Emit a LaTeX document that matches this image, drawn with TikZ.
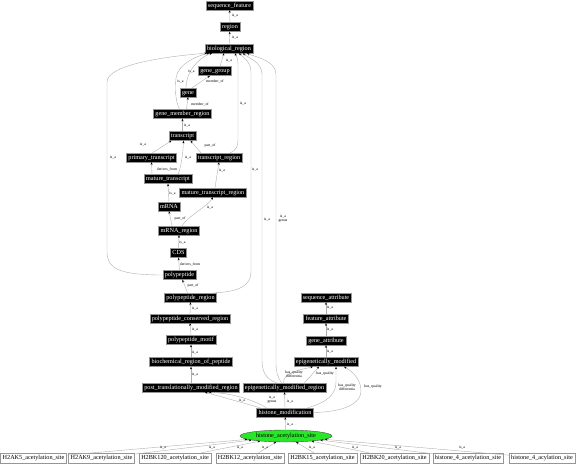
\documentclass[tikz,border=0pt]{standalone}
\usepackage{fontspec}
\setmainfont{Liberation Serif}
\usetikzlibrary{arrows.meta,positioning,shapes.geometric,calc}
\definecolor{edgegray}{RGB}{175,175,175}
\definecolor{boxgray}{RGB}{150,150,150}
\definecolor{acgreen}{RGB}{40,230,40}

\begin{document}
\begin{tikzpicture}[x=1pt, y=-1pt,
  term/.style={draw=boxgray, fill=black, text=white, line width=0.4pt,
    font=\fontsize{6.2}{7}\selectfont, inner xsep=2pt, inner ysep=0pt,
    minimum height=9pt, text height=4.4pt, text depth=1.3pt},
  site/.style={term, fill=white, text=black, minimum height=10pt},
  acsite/.style={ellipse, draw=black!70, fill=acgreen, line width=0.4pt,
    font=\fontsize{6.2}{7}\selectfont, inner sep=0pt,
    minimum width=92pt, minimum height=12pt},
  rel/.style={edgegray, line width=0.4pt, -{Stealth[length=2.6pt, width=2pt, color=black]}},
  lbl/.style={font=\fontsize{3.8}{4.2}\selectfont, inner sep=0pt, align=center}
]
\useasboundingbox (0,0) rectangle (576,464);

% --- backbone ---
\node[term] (sf) at (229.5,5.5) {sequence\_feature};
\node[term] (reg) at (230,27) {region};
\node[term] (bio) at (229,48.5) {biological\_region};

% --- gene and transcript terms ---
\node[term] (ggrp) at (215,71) {gene\_group};
\node[term] (gene) at (188,92.5) {gene};
\node[term] (gmr) at (182.5,114) {gene\_member\_region};
\node[term] (tr) at (182.5,136) {transcript};
\node[term] (ptr) at (151.5,157.5) {primary\_transcript};
\node[term] (trr) at (219,157.5) {transcript\_region};
\node[term] (mtr) at (168,179) {mature\_transcript};
\node[term] (mtrr) at (213,192.5) {mature\_transcript\_region};
\node[term] (mrna) at (169,206.5) {mRNA};
\node[term] (mrnar) at (179,230.5) {mRNA\_region};
\node[term] (cds) at (178.5,253) {CDS};

% --- polypeptide terms ---
\node[term] (pp) at (179.5,275) {polypeptide};
\node[term] (ppr) at (190.5,297.5) {polypeptide\_region};
\node[term] (ppcr) at (190,318.5) {polypeptide\_conserved\_region};
\node[term] (ppm) at (191,340) {polypeptide\_motif};
\node[term] (brp) at (191,362) {biochemical\_region\_of\_peptide};
\node[term] (ptmr) at (191,387.5) {post\_translationally\_modified\_region};

% --- attributes and modification ---
\node[term] (sa) at (326,297.5) {sequence\_attribute};
\node[term] (fa) at (326,318.5) {feature\_attribute};
\node[term] (ga) at (326,340.5) {gene\_attribute};
\node[term] (em) at (326,362) {epigenetically\_modified};
\node[term] (emr) at (284.5,387.5) {epigenetically\_modified\_region};
\node[term] (hm) at (285,412.5) {histone\_modification};
\node[acsite] (has) at (286,436) {histone\_acetylation\_site};

% --- acetylation sites ---
\node[site] (s1) at (33.5,458) {H2AK5\_acetylation\_site};
\node[site] (s2) at (101.5,458) {H2AK9\_acetylation\_site};
\node[site] (s3) at (175,458) {H2BK120\_acetylation\_site};
\node[site] (s4) at (250,458) {H2BK12\_acetylation\_site};
\node[site] (s5) at (322.5,458) {H2BK15\_acetylation\_site};
\node[site] (s6) at (394.5,458) {H2BK20\_acetylation\_site};
\node[site] (s7) at (468,458) {histone\_4\_acetylation\_site};
\node[site] (s8) at (542,458) {histone\_4\_acylation\_site};

% --- edges, child to parent ---
\draw[rel] (reg) -- (sf);
\draw[rel] (bio) -- (reg);
\draw[rel] ([xshift=5pt]ggrp.north) -- ([xshift=-5pt]bio.south);
\draw[rel] ([xshift=4pt]gene.north) -- ([xshift=-5pt]ggrp.south);
\draw[rel] ([xshift=-2pt]gene.north) .. controls (186,72) and (198,58) .. ([xshift=-17pt]bio.south);
\draw[rel] ([xshift=4pt]gmr.north) -- (gene.south);
\draw[rel] ([xshift=-3pt]gmr.north) .. controls (175,100) and (175,88) .. (176,78)
  .. controls (178,64) and (196,56) .. ([xshift=-20pt]bio.south);
\draw[rel] (tr.north) -- (gmr.south);
\draw[rel] ([xshift=1pt]ptr.north) -- ([xshift=-11pt]tr.south);
\draw[rel] ([xshift=-16pt]mtr.north) -- (ptr.south);
\draw[rel] ([xshift=10pt]mtr.north) .. controls (182,165) and (183,150) .. ([xshift=1pt]tr.south);
\draw[rel] ([xshift=-18pt]trr.north) -- ([xshift=8pt]tr.south);
\draw[rel] ([xshift=11pt]trr.north) .. controls (237,150) and (238,146) .. (238,138) -- (238,64)
  .. controls (238,58) and (236,56) .. ([xshift=6pt]bio.south);
\draw[rel] ([xshift=2pt]mtrr.north) -- (trr.south);
\draw[rel] (mrna.north) -- (mtr.south);
\draw[rel] ([xshift=-7pt]mrnar.north) -- (mrna.south);
\draw[rel] ([xshift=3pt]mrnar.north) .. controls (188,216) and (208,206) .. (mtrr.south);
\draw[rel] (cds.north) -- (mrnar.south);
\draw[rel] (pp.north) -- (cds.south);
\draw[rel] ([xshift=-3pt]ppr.north) -- ([xshift=3pt]pp.south);
\draw[rel] (pp.west) .. controls (118,275) and (107,268) .. (107,252) -- (107,82)
  .. controls (107,64) and (170,56) .. ([xshift=-22pt]bio.south);
\draw[rel] ([xshift=-3pt]ppr.north east) .. controls (238,292) and (251,286) .. (251,272) -- (251,72)
  .. controls (251,62) and (243,57) .. ([xshift=10pt]bio.south);
\draw[rel] (ppcr.north) -- (ppr.south);
\draw[rel] (ppm.north) -- (ppcr.south);
\draw[rel] (brp.north) -- (ppm.south);
\draw[rel] (ptmr.north) -- (brp.south);
\draw[rel] ([xshift=-8pt]emr.north) .. controls (266,379) and (262,372) .. (262,360) -- (262,74)
  .. controls (262,62) and (247,57) .. ([xshift=14pt]bio.south);
\draw[rel] ([xshift=-3pt]emr.north) .. controls (278,378) and (276,372) .. (276,364) -- (276,74)
  .. controls (276,60) and (252,56) .. ([xshift=18pt]bio.south);
\draw[rel] (fa.north) -- (sa.south);
\draw[rel] (ga.north) -- (fa.south);
\draw[rel] (em.north) -- (ga.south);
\draw[rel] ([xshift=-1pt]emr.north) .. controls (283,372) and (300,370) .. ([xshift=-13pt]em.south);
\draw[rel] ([xshift=20pt]emr.north) -- ([xshift=-7pt]em.south);
\draw[rel] ([xshift=-6pt]hm.north east) .. controls (328,402) and (336,394) .. (336,382) -- ([xshift=10pt]em.south);
\draw[rel] (hm.east) .. controls (345,412) and (361,403) .. (361,391)
  .. controls (361,379) and (352,371) .. ([xshift=18pt]em.south);
\draw[rel] (hm.north) -- (emr.south);
\draw[rel] ([xshift=4pt]hm.north west) -- ([xshift=14pt]ptmr.south);
\draw[rel] ([xshift=10pt]hm.north west) .. controls (250,398) and (228,393) .. ([xshift=18pt]ptmr.south);
\draw[rel] (has) -- (hm);
\draw[rel] (s1) -- (has);
\draw[rel] (s2) -- (has);
\draw[rel] (s3) -- (has);
\draw[rel] (s4) -- (has);
\draw[rel] (s5) -- (has);
\draw[rel] (s6) -- (has);
\draw[rel] (s7) -- (has);
\draw[rel] (s8) -- (has);

% --- edge labels ---
\node[lbl] (l1) at (235,15.5) {is\_a};
\node[lbl] (l2) at (235,37) {is\_a};
\node[lbl] (l3) at (229,60) {is\_a};
\node[lbl] (l4) at (215,81.5) {member\_of};
\node[lbl] (l5) at (191.5,71) {is\_a};
\node[lbl] (l6) at (180.5,81) {is\_a};
\node[lbl] (l7) at (200,104) {member\_of};
\node[lbl] (l8) at (187,125) {is\_a};
\node[lbl] (l9) at (243,103) {is\_a};
\node[lbl] (l10) at (143,144) {is\_a};
\node[lbl] (l11) at (210,146) {part\_of};
\node[lbl] (l12) at (113,157) {is\_a};
\node[lbl] (l13) at (188,157) {is\_a};
\node[lbl] (l14) at (167,169) {derives\_from};
\node[lbl] (l15) at (222,170) {is\_a};
\node[lbl] (l16) at (255,169) {is\_a};
\node[lbl] (l17) at (172.5,193) {is\_a};
\node[lbl] (l18) at (210,207) {is\_a};
\node[lbl] (l19) at (180,219) {part\_of};
\node[lbl] (l20) at (267,219) {is\_a};
\node[lbl] (l21) at (283,219) {is\_a\\genus};
\node[lbl] (l22) at (182.5,242) {is\_a};
\node[lbl] (l23) at (190,264) {derives\_from};
\node[lbl] (l24) at (193,286) {part\_of};
\node[lbl] (l25) at (195,308) {is\_a};
\node[lbl] (l26) at (195,329.5) {is\_a};
\node[lbl] (l27) at (195,352) {is\_a};
\node[lbl] (l28) at (195,374) {is\_a};
\node[lbl] (l29) at (330,307.5) {is\_a};
\node[lbl] (l30) at (330,329.5) {is\_a};
\node[lbl] (l31) at (330,351.5) {is\_a};
\node[lbl] (l32) at (294,374) {has\_quality\\differentia};
\node[lbl] (l33) at (325,374) {has\_quality};
\node[lbl] (l34) at (242,400.5) {is\_a};
\node[lbl] (l35) at (272,400) {is\_a\\genus};
\node[lbl] (l36) at (290,401) {is\_a};
\node[lbl] (l37) at (347,387) {has\_quality\\differentia};
\node[lbl] (l38) at (373,387) {has\_quality};
\node[lbl] (l39) at (290,424) {is\_a};
\node[lbl] (l40) at (163,447) {is\_a};
\node[lbl] (l41) at (212,447) {is\_a};
\node[lbl] (l42) at (240,447) {is\_a};
\node[lbl] (l43) at (265,447) {is\_a};
\node[lbl] (l44) at (312,447) {is\_a};
\node[lbl] (l45) at (355,447) {is\_a};
\node[lbl] (l46) at (398,447) {is\_a};
\node[lbl] (l47) at (462,447) {is\_a};

\end{tikzpicture}
\end{document}
